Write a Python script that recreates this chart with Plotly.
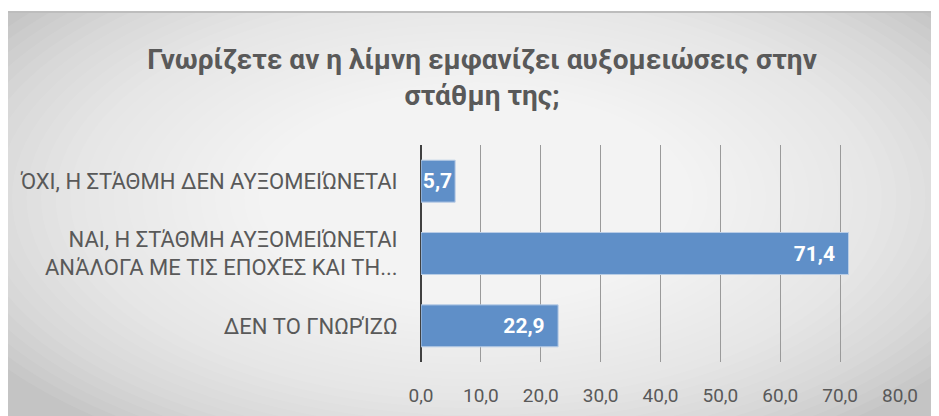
import plotly.graph_objects as go

# ==========================================================
# DATA
# ==========================================================

CATEGORIES = [
    "ΌΧΙ, Η ΣΤΆΘΜΗ ΔΕΝ ΑΥΞΟΜΕΙΏΝΕΤΑΙ",
    "ΝΑΙ, Η ΣΤΆΘΜΗ ΑΥΞΟΜΕΙΏΝΕΤΑΙ<br>ΑΝΆΛΟΓΑ ΜΕ ΤΙΣ ΕΠΟΧΈΣ ΚΑΙ ΤΗ...",
    "ΔΕΝ ΤΟ ΓΝΩΡΊΖΩ",
]
PERCENT = [5.7, 71.4, 22.9]
TICKS = [0, 10, 20, 30, 40, 50, 60, 70, 80]

TITLE = "Γνωρίζετε αν η λίμνη εμφανίζει αυξομειώσεις στην<br>στάθμη της;"

# ==========================================================
# LAYOUT HELPERS (pixel -> paper)
# page has an 8px body margin, so figure px = page px - 8
# ==========================================================

W, H = 931, 408
L, R, T, B = 413, 892, 137, 354
FONT = "Roboto, sans-serif"
GREY = "#595959"


def px(x):
    return (x - L) / (R - L)


def py(y):
    return (B - y) / (B - T)


# background: grey panel with a soft radial highlight
shapes = [
    dict(type="rect", xref="paper", yref="paper", layer="below",
         x0=px(-1), x1=px(931), y0=py(4), y1=py(408),
         fillcolor="#c4c4c4", line=dict(width=0)),
]
cx, cy = 468, 190
steps = 40
for i in range(steps):
    f = 1 - i / steps
    rx = 580 * f
    ry = 290 * f
    shapes.append(dict(
        type="circle", xref="paper", yref="paper", layer="below",
        x0=px(cx - rx), x1=px(cx + rx),
        y0=py(cy + ry), y1=py(cy - ry),
        fillcolor="white", opacity=0.075, line=dict(width=0),
    ))
# white strip above the panel
shapes.append(dict(
    type="rect", xref="paper", yref="paper", layer="below",
    x0=px(-10), x1=px(940), y0=py(4), y1=py(-10),
    fillcolor="white", line=dict(width=0),
))
shapes.append(dict(
    type="line", xref="paper", yref="paper", layer="below",
    x0=px(-1), x1=px(931), y0=py(4), y1=py(4),
    line=dict(color="#bdbdbd", width=2),
))

# label padding: the narrow first bar gets none, like the clipped label
LABEL_FMT = ["<b>%{x:.1f}</b>"] + ["<b>%{x:.1f}</b>\u00a0\u00a0"] * 2

# ==========================================================
# FIGURE
# ==========================================================

fig = go.Figure(
    go.Bar(
        x=PERCENT,
        y=CATEGORIES,
        orientation="h",
        marker=dict(color="#5f8fc8", line=dict(color="#b9cde6", width=1)),
        texttemplate=LABEL_FMT,
        textposition="inside",
        insidetextanchor="end",
        textangle=0,
        constraintext="none",
        textfont=dict(color="white", size=21, family=FONT),
        hoverinfo="skip",
    )
)

fig.update_layout(
    width=W,
    height=H,
    margin=dict(l=L, r=W - R, t=T, b=H - B, autoexpand=False),
    paper_bgcolor="white",
    plot_bgcolor="rgba(0,0,0,0)",
    separators=",.",
    bargap=0.42,
    showlegend=False,
    shapes=shapes,
    font=dict(family=FONT, color=GREY, size=22),
    title=dict(
        text="<b>" + TITLE + "</b>",
        x=474 / W,
        xref="container",
        xanchor="center",
        y=1 - 61 / H,
        yref="container",
        yanchor="middle",
        font=dict(size=28, color=GREY, family=FONT),
    ),
)

fig.update_xaxes(
    range=[0, 80],
    tickvals=TICKS,
    tickformat=".1f",
    showgrid=True,
    gridcolor="#9a9a9a",
    gridwidth=1,
    zeroline=True,
    zerolinecolor="#404040",
    zerolinewidth=2,
    ticks="outside",
    ticklen=16,
    tickcolor="rgba(0,0,0,0)",
    tickfont=dict(size=19, color=GREY),
    automargin=False,
    fixedrange=True,
)

fig.update_yaxes(
    autorange="reversed",
    showgrid=False,
    ticks="outside",
    ticklen=18,
    tickcolor="rgba(0,0,0,0)",
    tickfont=dict(size=22, color=GREY),
    automargin=False,
    fixedrange=True,
)

fig.write_html("out.html")
